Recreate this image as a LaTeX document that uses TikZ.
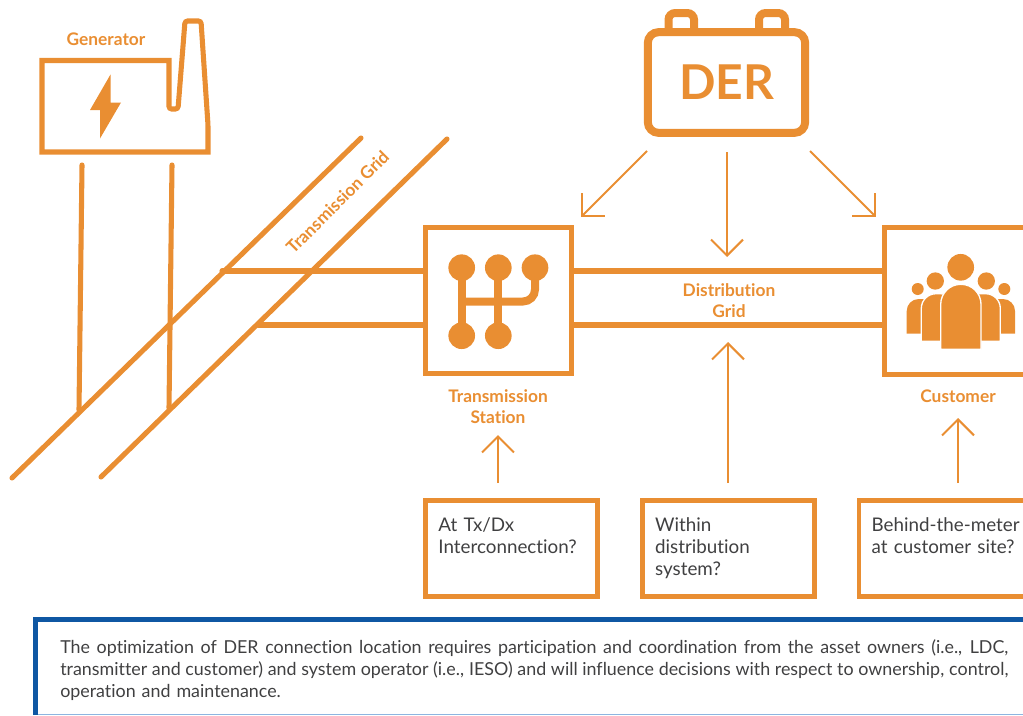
\documentclass[tikz,border=0pt]{standalone}
\usepackage{fontspec}
\setmainfont{Lato}[RawFeature=-liga]
\usetikzlibrary{arrows.meta}
\definecolor{derorange}{HTML}{E98E32}
\definecolor{noteblue}{HTML}{0F57A3}
\definecolor{notepale}{HTML}{8DB5E0}
\definecolor{bodygray}{HTML}{404041}
\newcommand{\fitline}[1]{\leavevmode\hbox to 711pt{\spaceskip=.19em plus .3em minus .19em\relax #1}}
\tikzset{
  heavy/.style={derorange,line width=3.8pt,line cap=round},
  pointer/.style={derorange,line width=1.5pt,-{Straight Barb[length=12pt,width=24pt,line width=1.5pt]}},
  iconbox/.style={draw=derorange,line width=3.8pt,minimum size=110pt,inner sep=0pt},
  tag/.style={text=derorange,font=\fontsize{13}{15.6}\selectfont\bfseries,align=center,inner sep=0pt},
  askbox/.style={draw=derorange,line width=3.7pt,minimum width=129pt,minimum height=72pt,text width=110pt,inner sep=0pt,
    text=bodygray,font=\fontsize{14.1}{16.5}\selectfont,align=left},
  blob/.style={fill=derorange,draw=none},
  ring/.style={fill=derorange,draw=white,line width=1pt}
}
\begin{document}
\begin{tikzpicture}[x=0.75pt,y=-0.75pt]
\useasboundingbox (0,0) rectangle (1023,715);
% grid lines
\coordinate (railA) at (361,138);
\coordinate (railB) at (447,139);
\coordinate (railAend) at (12,478);
\coordinate (railBend) at (101,477);
\coordinate (gridup) at (222,271);
\coordinate (gridlow) at (258,325);
\draw[heavy] (railA)--(railAend);
\draw[heavy] (railB)--(railBend);
\node[iconbox] (station) at (498.5,300.5) {};
\node[iconbox] (customer) at (958,301) {};
\draw[heavy] (gridup)--(station.west |- gridup);
\draw[heavy] (gridlow)--(station.west |- gridlow);
\draw[heavy] (station.east |- gridup)--(customer.west |- gridup);
\draw[heavy] (station.east |- gridlow)--(customer.west |- gridlow);
\node[tag,rotate=45] (railtag) at (337.5,202) {Transmission Grid};
\node[tag] (gridtag) at (729,300.5) {Distribution\\Grid};
% generator
\coordinate (legA) at (82,165);
\coordinate (legB) at (172,165);
\coordinate (legAend) at (79,410);
\coordinate (legBend) at (169,408);
\draw[heavy] (legA)--(legAend);
\draw[heavy] (legB)--(legBend);
\draw[heavy,line cap=butt] (42,152) -- (42,60.5) -- (169,60.5) [rounded corners=2pt] -- (169,109) -- (178,109) -- (185,21) -- (201,21) -- (208,125) [sharp corners] -- (208,152) -- cycle;
\fill[derorange] (110.5,74.5)--(90,110)--(100,110)--(100,138.5)--(121,102.5)--(110.5,102.5)--cycle;
\node[tag] (gentag) at (106,39) {Generator};
% battery
\draw[derorange,line width=6pt,rounded corners=5pt] (668.5,32)--(668.5,13)--(694,13)--(694,32);
\draw[derorange,line width=6pt,rounded corners=5pt] (759,32)--(759,13)--(785,13)--(785,32);
\node[draw=derorange,line width=6pt,rounded corners=8pt,minimum width=118pt,minimum height=75.5pt,inner sep=0pt,
  text=derorange,font=\fontsize{36}{40}\selectfont\bfseries] (der) at (726.5,82.5) {DER};
% arrows from battery
\coordinate (derleft) at (647,151);
\coordinate (derleftend) at (581,217);
\coordinate (dermid) at (727,152);
\coordinate (dermidend) at (727,257);
\coordinate (derright) at (810,151);
\coordinate (derrightend) at (876,217);
\draw[pointer] (derleft)--(derleftend);
\draw[pointer] (dermid)--(dermidend);
\draw[pointer] (derright)--(derrightend);
% gear lever
\foreach \gx in {461.7,498.3,535} \fill[derorange] (\gx,267.7) circle[radius=10pt];
\foreach \gx in {461.7,498.3} \fill[derorange] (\gx,335.7) circle[radius=10pt];
\foreach \gx in {461.7,498.3} \draw[derorange,line width=6pt] (\gx,268)--(\gx,336);
\draw[derorange,line width=6pt,rounded corners=9pt] (461.7,301.5)--(535,301.5)--(535,268);
\node[tag] (stationtag) at (498,406.5) {Transmission\\Station};
% people
\fill[blob] (917.7,289) circle[radius=4.5pt];
\fill[blob] (1004.3,289) circle[radius=4.5pt];
\fill[blob] (935.3,281) circle[radius=6.5pt];
\fill[blob] (986.3,281) circle[radius=6.5pt];
\fill[blob] (960.7,267.3) circle[radius=10pt];
\fill[blob] (906.7,333.7) [rounded corners=9pt] -- (906.7,299) -- (935,299) [sharp corners] -- (935,333.7) -- cycle;
\fill[blob] (1015,333.7) [rounded corners=9pt] -- (1015,299) -- (986,299) [sharp corners] -- (986,333.7) -- cycle;
\draw[ring] (921.3,341.3) [rounded corners=11pt] -- (921.3,293.7) -- (955,293.7) [sharp corners] -- (955,341.3) -- cycle;
\draw[ring] (1000.3,341.3) [rounded corners=11pt] -- (1000.3,293.7) -- (966,293.7) [sharp corners] -- (966,341.3) -- cycle;
\draw[ring] (940.7,349.3) [rounded corners=15pt] -- (940.7,284.3) -- (981,284.3) [sharp corners] -- (981,349.3) -- cycle;
\node[tag] (customertag) at (958,396) {Customer};
% question boxes
\node[askbox] (txdx) at (511.8,548.8) {\strut At Tx/Dx\\Interconnection?\\\strut};
\node[askbox] (within) at (728.5,548.8) {\strut Within\\distribution\\system?\strut};
\node[askbox] (behind) at (945,548.8) {\strut\mbox{Behind-the-meter}\\at customer site?\\\strut};
\coordinate (askA) at (498,483);
\coordinate (askAend) at (498,435);
\coordinate (askB) at (728,483);
\coordinate (askBend) at (728,342);
\coordinate (askC) at (958,483);
\coordinate (askCend) at (958,418);
\draw[pointer] (askA)--(askAend);
\draw[pointer] (askB)--(askBend);
\draw[pointer] (askC)--(askCend);
% note
\draw[noteblue,line width=3.8pt] (35.5,715)--(35.5,619.5)--(1023,619.5);
\draw[notepale,line width=0.9pt] (38,714.3)--(1023,714.3);
\node[anchor=north west,inner sep=0pt,text width=711pt,align=left,text=bodygray,font=\fontsize{13.4}{16.5}\selectfont] (note) at (60,639)
  {\fitline{The optimization of DER connection location requires participation and coordination from the asset owners (i.e., LDC,}\\
  \fitline{transmitter and customer) and system operator (i.e., IESO) and will influence decisions with respect to ownership, control,}\\
  operation and maintenance.};
\end{tikzpicture}
\end{document}
